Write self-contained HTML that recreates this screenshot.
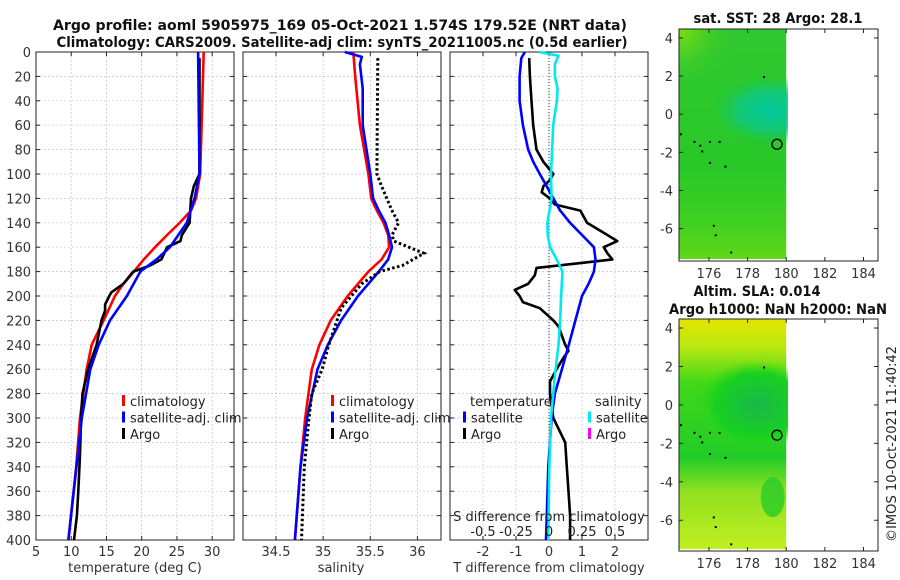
<!DOCTYPE html>
<html><head><meta charset="utf-8"><style>
body{margin:0;background:#fff}
svg{display:block;font-family:"DejaVu Sans","Liberation Sans",sans-serif}
</style></head><body>
<svg id="fig" width="900" height="580" viewBox="0 0 900 580">
<defs>
<radialGradient id="sstCyan" cx="0.5" cy="0.5" r="0.5"><stop offset="0" stop-color="#00c8a0"/><stop offset="0.55" stop-color="#10c880" stop-opacity="0.85"/><stop offset="1" stop-color="#1cc83c" stop-opacity="0"/></radialGradient>
<radialGradient id="sstLime" cx="0" cy="0" r="1"><stop offset="0" stop-color="#80e010"/><stop offset="1" stop-color="#30c830" stop-opacity="0"/></radialGradient>
<radialGradient id="slaGreen" cx="0.5" cy="0.5" r="0.5"><stop offset="0" stop-color="#1ab84a"/><stop offset="0.7" stop-color="#18d020"/><stop offset="1" stop-color="#30d818" stop-opacity="0"/></radialGradient>
<linearGradient id="slaBg" x1="0" y1="0" x2="0" y2="1"><stop offset="0" stop-color="#e6e600"/><stop offset="0.12" stop-color="#b8e810"/><stop offset="0.28" stop-color="#40d818"/><stop offset="0.6" stop-color="#20cc28"/><stop offset="0.75" stop-color="#90e020"/><stop offset="1" stop-color="#c0f020"/></linearGradient>
<linearGradient id="sstBg" x1="0" y1="0" x2="0" y2="1"><stop offset="0" stop-color="#30c830"/><stop offset="0.6" stop-color="#28c828"/><stop offset="0.85" stop-color="#40d020"/><stop offset="1" stop-color="#60d818"/></linearGradient>
<clipPath id="clipSst"><rect x="679" y="29" width="109" height="230"/></clipPath>
<clipPath id="clipSla"><rect x="679" y="319" width="109" height="230"/></clipPath>
</defs>
<g id="root"></g>
</svg>
<script>
// ---- data (depths in m) ----
const climTDepth=[0,100,120,130,140,150,160,170,180,190,200,210,220,240,260,280,300,340,400];
const climT=[28.8,28.3,27.7,27.0,25.4,23.6,21.9,20.3,18.9,17.4,16.2,15.4,14.6,12.9,12.2,11.7,11.25,10.7,9.6];
const satTDepth=[0,100,120,140,160,170,180,200,220,240,260,300,400];
const satT=[28.0,28.2,27.5,26.4,24.0,22.1,19.8,17.9,15.5,13.9,12.7,11.5,9.6];
const argoTDepth=[5,100,110,120,130,140,150,155,160,170,175,180,185,190,197,200,207,212,220,240,260,280,300,330,360,380,400];
const argoT=[28.2,28.2,27.4,27.0,26.9,26.8,25.7,25.5,23.6,22.8,21.2,18.8,18.1,17.4,15.7,15.4,14.8,14.8,14.3,13.6,12.4,11.6,11.4,11.25,11.0,10.8,10.4];

const climSDepth=[0,20,60,100,120,130,140,150,160,170,180,190,200,220,240,260,300,340,400];
const climS=[35.32,35.34,35.39,35.48,35.51,35.57,35.64,35.69,35.70,35.62,35.48,35.37,35.26,35.08,34.96,34.88,34.81,34.76,34.70];
const satSDepth=[0,4,10,30,60,100,120,130,140,150,160,170,180,190,200,220,240,260,300,340,400];
const satS=[35.23,35.41,35.39,35.42,35.42,35.50,35.53,35.59,35.66,35.70,35.73,35.69,35.59,35.48,35.37,35.19,35.05,34.94,34.83,34.76,34.70];
const argoSDepth=[5,100,110,130,140,150,155,165,175,180,190,200,210,240,260,280,300,340,400];
const argoS=[35.58,35.57,35.62,35.73,35.80,35.73,35.75,36.07,35.84,35.60,35.41,35.30,35.19,35.06,34.99,34.88,34.85,34.80,34.77];

const dTsatDepth=[0,5,20,40,60,80,90,100,110,120,130,140,150,160,170,180,190,200,220,240,260,280,300,340,400];
const dTsat=[-0.73,-0.84,-0.89,-0.89,-0.79,-0.63,-0.48,-0.28,-0.07,0.13,0.34,0.64,1.0,1.36,1.41,1.36,1.2,1.0,0.8,0.6,0.39,0.18,0.08,-0.02,-0.09];
const dTargoDepth=[5,20,40,60,80,90,100,105,110,115,120,125,130,140,145,150,155,160,165,170,173,177,183,190,195,200,205,210,220,225,240,245,250,260,270,280,300,320,340,360,380,400];
const dTargo=[-0.6,-0.58,-0.53,-0.48,-0.38,-0.17,0.13,0.03,-0.17,-0.22,0.03,0.18,0.95,1.15,1.46,1.77,2.07,1.66,1.77,1.92,0.95,-0.38,-0.43,-0.63,-1.04,-0.89,-0.79,-0.28,0.13,0.29,0.49,0.59,0.45,0.23,0.03,0.03,0.13,0.49,0.54,0.59,0.64,0.64];
const dSsatDepth=[0,3,10,20,30,40,60,100,120,140,150,160,170,180,200,220,240,260,280,300,340,400];
const dSsat=[-0.075,0.072,0.045,0.045,0.065,0.06,0.032,0.015,0.02,-0.012,-0.01,0.008,0.058,0.102,0.092,0.085,0.072,0.05,0.032,0.015,0.002,-0.005];

const depthTicks=[0,20,40,60,80,100,120,140,160,180,200,220,240,260,280,300,320,340,360,380,400];
const tTicks=[5,10,15,20,25,30];
const sTicks=[34.5,35,35.5,36];
const dTTicks=[-2,-1,0,1,2];
const dSTicks=["-0.5","-0.25","0","0.25","0.5"];
const lonTicks=[176,178,180,182,184];
const latTicks=[4,2,0,-2,-4,-6];

const NS="http://www.w3.org/2000/svg";
const root=document.getElementById('root');
function mk(tag,attrs,parent,text){const e=document.createElementNS(NS,tag);for(const k in attrs)e.setAttribute(k,attrs[k]);if(text!==undefined)e.textContent=text;(parent||root).appendChild(e);return e;}

const Y0=52,Y1=540;
const yD=d=>Y0+(d/400)*(Y1-Y0);

function panel(name,x0,x1,xmin,xmax,ticks,tickLbl){
  const g=mk('g',{});
  
  
  const xs=v=>x0+(v-xmin)/(xmax-xmin)*(x1-x0);
  depthTicks.forEach(d=>{const l=mk('line',{x1:x0,x2:x1,y1:yD(d),y2:yD(d),stroke:'#b8c4dc','stroke-width':0.7,'stroke-dasharray':'2,2'},g);});
  ticks.forEach(t=>{const l=mk('line',{x1:xs(t),x2:xs(t),y1:Y0,y2:Y1,stroke:'#b8c4dc','stroke-width':0.7,'stroke-dasharray':'2,2'},g);});
  depthTicks.forEach(d=>{mk('line',{x1:x0,x2:x0+4,y1:yD(d),y2:yD(d),stroke:'#222'},g);mk('line',{x1:x1-4,x2:x1,y1:yD(d),y2:yD(d),stroke:'#222'},g);});
  ticks.forEach((t,i)=>{mk('line',{x1:xs(t),x2:xs(t),y1:Y1,y2:Y1-4,stroke:'#222'},g);mk('line',{x1:xs(t),x2:xs(t),y1:Y0,y2:Y0+4,stroke:'#222'},g);
    const tl=mk('text',{x:xs(t),y:Y1+16,'font-size':13,'text-anchor':'middle',fill:'#333'},g,tickLbl?tickLbl[i]:String(t));});
  const fr=mk('rect',{x:x0,y:Y0,width:x1-x0,height:Y1-Y0,fill:'none',stroke:'#222','stroke-width':1},g);
  
  return {g,xs};
}
function line(p,xv,dv,color,name,extra){
  const pts=xv.map((v,i)=>p.xs(v).toFixed(1)+','+yD(dv[i]).toFixed(1)).join(' ');
  const e=mk('polyline',Object.assign({points:pts,fill:'none',stroke:color,'stroke-width':2.6,'stroke-linejoin':'round'},extra||{}),p.g);
  
  
}
function legend(p,x,y,items){
  items.forEach((it,i)=>{
    if(it.c) mk('rect',{x:x,y:y+i*16.5-11,width:3,height:11,fill:it.c},p.g);
    const t=mk('text',{x:x+(it.c?8:0),y:y+i*16.5,'font-size':13,fill:'#222'},p.g,it.t);
    
    
  });
}
function label(x,y,txt,name,opts){
  const t=mk('text',Object.assign({x:x,y:y,'font-size':13,'text-anchor':'middle',fill:'#333'},opts||{}),root,txt);
  
  
  return t;
}

depthTicks.forEach(d=>{const t=mk('text',{x:31,y:yD(d)+5,'font-size':13,'text-anchor':'end',fill:'#333'},root,String(d));});

const p1=panel('temperature-panel',36,234,5,33.1,tTicks);
line(p1,climT,climTDepth,'#ff0000','climatology-temperature-line');
line(p1,argoT,argoTDepth,'#000000','argo-temperature-line');
line(p1,satT,satTDepth,'#0000ff','satellite-temperature-line');
legend(p1,122,406,[{c:'#ff0000',t:'climatology'},{c:'#0000ff',t:'satellite-adj. clim'},{c:'#000',t:'Argo'}]);
label(135,572,'temperature (deg C)','x-axis-title');

const p2=panel('salinity-panel',243,441,34.15,36.25,sTicks);
line(p2,climS,climSDepth,'#ff0000','climatology-salinity-line');
line(p2,satS,satSDepth,'#0000ff','satellite-salinity-line');
line(p2,argoS,argoSDepth,'#000000','argo-salinity-line',{'stroke-dasharray':'2.5,2.5','stroke-linejoin':'miter','stroke-width':3});
legend(p2,331,406,[{c:'#ff0000',t:'climatology'},{c:'#0000ff',t:'satellite-adj. clim'},{c:'#000',t:'Argo'}]);
label(341,572,'salinity','x-axis-title');

const p3=panel('difference-panel',450,648,-3,3,dTTicks);
mk('line',{x1:p3.xs(0),x2:p3.xs(0),y1:Y0,y2:Y1,stroke:'#333','stroke-width':1,'stroke-dasharray':'1,2'},p3.g);
line(p3,dTargo,dTargoDepth,'#000000','argo-temperature-difference-line');
line(p3,dTsat,dTsatDepth,'#0000ff','satellite-temperature-difference-line');
line(p3,dSsat.map(v=>v*4),dSsatDepth,'#00e8f0','satellite-salinity-difference-line');
legend(p3,470,406,[{t:'temperature'}]);
legend(p3,463,422.5,[{c:'#0000ff',t:'satellite'},{c:'#000',t:'Argo'}]);
legend(p3,595,406,[{t:'salinity'}]);
legend(p3,588,422.5,[{c:'#00e8f0',t:'satellite'},{c:'#ff00ff',t:'Argo'}]);
let t=mk('text',{x:549,y:521,'font-size':13,'text-anchor':'middle',fill:'#222'},p3.g,'S difference from climatology');
dSTicks.forEach((s,i)=>{const tt=mk('text',{x:p3.xs(parseFloat(s)*4),y:536,'font-size':13,'text-anchor':'middle',fill:'#222'},p3.g,s);});
label(549,572,'T difference from climatology','x-axis-title');

label(340,30,'Argo profile: aoml 5905975_169 05-Oct-2021 1.574S 179.52E (NRT data)','figure-title',{'font-size':14,'font-weight':'bold',fill:'#111',textLength:574,lengthAdjust:'spacingAndGlyphs'});
label(342,47,'Climatology: CARS2009. Satellite-adj clim: synTS_20211005.nc (0.5d earlier)','figure-subtitle',{'font-size':14,'font-weight':'bold',fill:'#111',textLength:571,lengthAdjust:'spacingAndGlyphs'});

function map(name,top,bottom,latTop,latBot,clip,fillFn){
  const g=mk('g',{});
  
  
  const x0=679,x1=878,lonMin=174.45,lonMax=184.75;
  const xs=v=>x0+(v-lonMin)/(lonMax-lonMin)*(x1-x0);
  const ys=v=>top+(latTop-v)/(latTop-latBot)*(bottom-top);
  const ig=mk('g',{'clip-path':'url(#'+clip+')'},g);
  fillFn(ig,x0,xs(180),top,bottom-2,xs,ys);
  [[174.5,-1.0],[175.2,-1.4],[175.5,-1.6],[175.6,-1.9],[176.0,-1.4],[176.5,-1.4],[176.0,-2.5],[176.8,-2.7],[176.2,-5.8],[176.3,-6.3],[177.1,-7.2],[178.8,2.0]].forEach(p=>mk('rect',{x:xs(p[0]),y:ys(p[1]),width:2,height:2,fill:'#000'},g));
  const c=mk('circle',{cx:xs(179.52),cy:ys(-1.574),r:5,fill:'none',stroke:'#000','stroke-width':1.3},g);
  
  mk('rect',{x:x0,y:top,width:x1-x0,height:bottom-top,fill:'none',stroke:'#222'},g);
  lonTicks.forEach(l=>{mk('line',{x1:xs(l),x2:xs(l),y1:bottom,y2:bottom-4,stroke:'#222'},g);mk('line',{x1:xs(l),x2:xs(l),y1:top,y2:top+4,stroke:'#222'},g);
    const tl=mk('text',{x:xs(l),y:bottom+17,'font-size':13,'text-anchor':'middle',fill:'#333'},g,String(l));});
  latTicks.forEach(l=>{mk('line',{x1:x0,x2:x0+4,y1:ys(l),y2:ys(l),stroke:'#222'},g);mk('line',{x1:x1-4,x2:x1,y1:ys(l),y2:ys(l),stroke:'#222'},g);
    const tl=mk('text',{x:x0-6,y:ys(l)+5,'font-size':13,'text-anchor':'end',fill:'#333'},g,String(l));});
}
map('sst-map',29,261,4.47,-7.7,'clipSst',(g,x0,xr,top,bot,xs,ys)=>{
  mk('rect',{x:x0,y:top,width:xr-x0,height:bot-top,fill:'url(#sstBg)'},g);
  mk('rect',{x:x0,y:top,width:60,height:60,fill:'url(#sstLime)'},g);
  mk('ellipse',{cx:xs(179.2),cy:ys(0.2),rx:60,ry:36,fill:'url(#sstCyan)'},g);
});
map('sla-map',319,551,4.47,-7.6,'clipSla',(g,x0,xr,top,bot,xs,ys)=>{
  mk('rect',{x:x0,y:top,width:xr-x0,height:bot-top,fill:'url(#slaBg)'},g);
  mk('ellipse',{cx:xs(178.5),cy:ys(0),rx:60,ry:45,fill:'url(#slaGreen)'},g);
  mk('ellipse',{cx:xs(179.3),cy:ys(-4.8),rx:12,ry:20,fill:'#28cc28',opacity:0.8},g);
});
label(778,23,'sat. SST: 28 Argo: 28.1','sst-map-title',{'font-size':14,'font-weight':'bold',fill:'#111',textLength:169,lengthAdjust:'spacingAndGlyphs'});
label(757,296,'Altim. SLA: 0.014','sla-map-title',{'font-size':14,'font-weight':'bold',fill:'#111',textLength:127,lengthAdjust:'spacingAndGlyphs'});
label(778,314,'Argo h1000: NaN h2000: NaN','sla-map-subtitle',{'font-size':14,'font-weight':'bold',fill:'#111',textLength:218,lengthAdjust:'spacingAndGlyphs'});
label(0,0,'©IMOS 10-Oct-2021 11:40:42','copyright-timestamp',{transform:'translate(896,444) rotate(-90)',fill:'#222',textLength:196,lengthAdjust:'spacingAndGlyphs'});
</script>
</body></html>
